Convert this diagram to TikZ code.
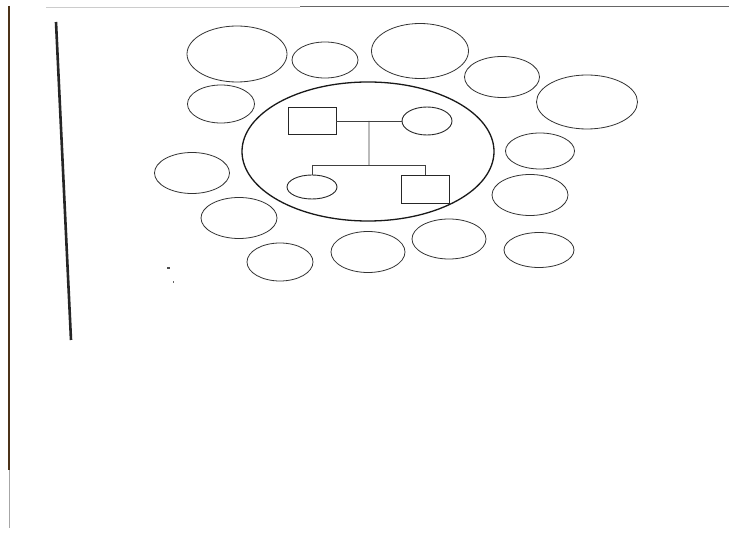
\documentclass[tikz,border=0pt]{standalone}
\usetikzlibrary{shapes.geometric,calc}
\begin{document}
\begin{tikzpicture}[x=1pt,y=-1pt,
  eco/.style={draw=black!80, line width=0.8pt, ellipse, inner sep=0pt},
  fam/.style={draw=black!90, line width=1.3pt, ellipse, inner sep=0pt},
  malebox/.style={draw=black!85, line width=0.9pt, rectangle, inner sep=0pt},
  femaleshape/.style={draw=black!85, line width=0.9pt, ellipse, inner sep=0pt},
  link/.style={draw=black!75, line width=0.7pt}]
\useasboundingbox (0,0) rectangle (729,553);
\fill[white] (0,0) rectangle (729,553);
% scan edges
\draw[line width=1.1pt, black!60!brown] (9,6) -- (9,470);
\draw[line width=0.9pt, black!35] (9,470) -- (9,528);
\draw[line width=0.7pt, black!20] (46,7) -- (300,7);
\draw[line width=0.9pt, black!60] (300,6) -- (729,6);
\draw[line width=2.6pt, black!85] (56,22) -- (71,340);
\fill[black!70] (167,267.5) rectangle (170,269);
\fill[black!60] (172.5,281.5) rectangle (174,283);
% family circle
\node[fam, minimum width=252pt, minimum height=139pt] (family) at (368,151.5) {};
% surrounding ecomap circles
\node[eco, minimum width=100pt, minimum height=56pt] (e1) at (237,54) {};
\node[eco, minimum width=66pt, minimum height=36pt] (e2) at (325,60) {};
\node[eco, minimum width=97pt, minimum height=55pt] (e3) at (420,51) {};
\node[eco, minimum width=75pt, minimum height=41pt] (e4) at (502,77) {};
\node[eco, minimum width=101pt, minimum height=54pt] (e5) at (587,102) {};
\node[eco, minimum width=67pt, minimum height=38pt] (e6) at (221,104) {};
\node[eco, minimum width=69pt, minimum height=36pt] (e7) at (540,151) {};
\node[eco, minimum width=75pt, minimum height=41pt] (e8) at (192,173) {};
\node[eco, minimum width=76pt, minimum height=41pt] (e9) at (530,195) {};
\node[eco, minimum width=76pt, minimum height=41pt] (e10) at (239,218) {};
\node[eco, minimum width=66pt, minimum height=38pt] (e11) at (280,262) {};
\node[eco, minimum width=74pt, minimum height=41pt] (e12) at (368,252) {};
\node[eco, minimum width=74pt, minimum height=40pt] (e13) at (449,239) {};
\node[eco, minimum width=70pt, minimum height=35pt] (e14) at (539,250) {};
% genogram
\node[malebox, minimum width=48pt, minimum height=27pt] (father) at (312,121) {};
\node[femaleshape, minimum width=50pt, minimum height=28pt] (mother) at (427,121) {};
\node[femaleshape, minimum width=50pt, minimum height=24pt] (daughter) at (312,187) {};
\node[malebox, minimum width=48pt, minimum height=28pt] (son) at (425,189) {};
\coordinate (mid) at ($(father.east)!0.5!(mother.west)$);
\coordinate (bar) at (369,165);
\draw[link] (father.east) -- (mother.west);
\draw[link] (mid) -- (bar);
\draw[link] (daughter.north |- bar) -- (son.north |- bar);
\draw[link] (daughter.north |- bar) -- (daughter.north);
\draw[link] (son.north |- bar) -- (son.north);
\end{tikzpicture}
\end{document}
